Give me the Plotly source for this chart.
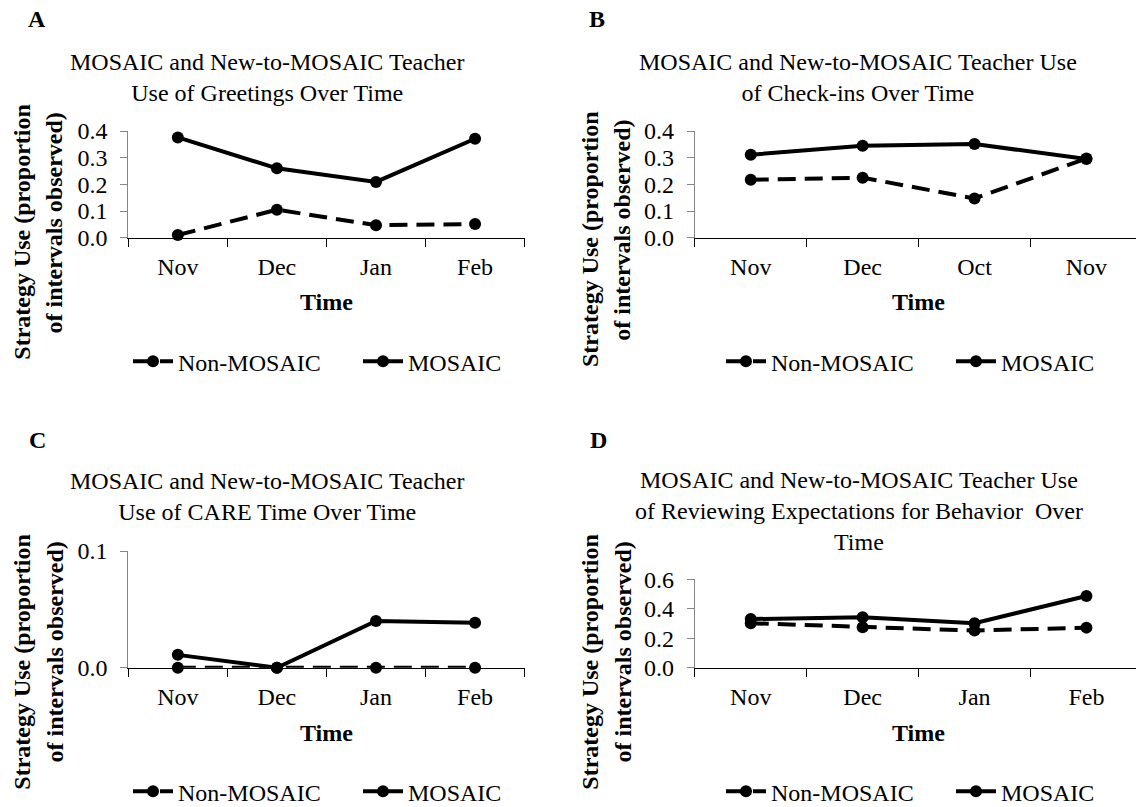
import plotly.graph_objects as go

W, H = 1136, 807

# ---------------- data ----------------
months_a = ["Nov", "Dec", "Jan", "Feb"]
months_b = ["Nov", "Dec", "Oct", "Nov"]
months_c = ["Nov", "Dec", "Jan", "Feb"]
months_d = ["Nov", "Dec", "Jan", "Feb"]

greet_non = [0.010, 0.105, 0.047, 0.051]
greet_mosaic = [0.376, 0.260, 0.209, 0.371]

checkin_non = [0.217, 0.225, 0.147, 0.297]
checkin_mosaic = [0.311, 0.345, 0.351, 0.295]

care_non = [0.0, 0.0, 0.0, 0.0]
care_mosaic = [0.011, 0.0, 0.040, 0.0386]

review_non = [0.302, 0.275, 0.252, 0.272]
review_mosaic = [0.330, 0.342, 0.302, 0.487]

series_names = ["Non-MOSAIC", "MOSAIC"]

titles = [
    "MOSAIC and New-to-MOSAIC Teacher<br>Use of Greetings Over Time",
    "MOSAIC and New-to-MOSAIC Teacher Use<br>of Check-ins Over Time",
    "MOSAIC and New-to-MOSAIC Teacher<br>Use of CARE Time Over Time",
    "MOSAIC and New-to-MOSAIC Teacher Use<br>of Reviewing Expectations for Behavior&nbsp; Over<br>Time",
]
panel_letters = ["A", "B", "C", "D"]
y_title_1 = "Strategy Use (proportion"
y_title_2 = "of intervals observed)"
x_title = "Time"

# ---------------- layout helpers ----------------
FONT = "Liberation Serif"
def px(x):
    return x / W
def py(y):
    return 1 - y / H

panels = [
    dict(m=months_a, non=greet_non, mos=greet_mosaic, yr=[0, 0.4], tv=[0, 0.1, 0.2, 0.3, 0.4],
         xd=(128.3, 524.6), yd=(237.7, 131.0), xr=[-0.5, 3.5],
         title_c=(267, 77), letter=(37, 19), yt1=(22, 231.7), yt2=(54, 223.5),
         xt=(326.5, 301.7), leg=(358, 361.7)),
    dict(m=months_b, non=checkin_non, mos=checkin_mosaic, yr=[0, 0.4], tv=[0, 0.1, 0.2, 0.3, 0.4],
         xd=(694.8, 1136), yd=(237.7, 131.0), xr=[-0.5, 3.443],
         title_c=(858, 77), letter=(597, 19), yt1=(590, 239), yt2=(622, 230.7),
         xt=(918.4, 301.7), leg=(951, 361.7)),
    dict(m=months_c, non=care_non, mos=care_mosaic, yr=[0, 0.1], tv=[0, 0.1],
         xd=(128.3, 524.6), yd=(667.7, 551.0), xr=[-0.5, 3.5],
         title_c=(267, 496.7), letter=(37, 440), yt1=(22, 661.7), yt2=(54, 652.5),
         xt=(326.5, 733.3), leg=(358, 791.7)),
    dict(m=months_d, non=review_non, mos=review_mosaic, yr=[0, 0.6], tv=[0, 0.2, 0.4, 0.6],
         xd=(694.8, 1136), yd=(667.7, 579.3), xr=[-0.5, 3.443],
         title_c=(858.8, 510.9), letter=(598, 440.5), yt1=(590, 661.7), yt2=(622, 652.5),
         xt=(918.4, 733.3), leg=(951, 791.7)),
]

fig = go.Figure()
annotations = []
layout = dict(
    width=W, height=H,
    margin=dict(l=0, r=0, t=0, b=0, autoexpand=False),
    paper_bgcolor="white", plot_bgcolor="white",
    font=dict(family=FONT, size=24, color="black"),
    showlegend=True,
)

for i, p in enumerate(panels):
    k = "" if i == 0 else str(i + 1)
    xa, ya = "x" + k, "y" + k
    leg = "legend" + k
    xpos = list(range(len(p["m"])))
    fig.add_trace(go.Scatter(
        x=xpos, y=p["non"], name=series_names[0], mode="lines+markers",
        line=dict(color="black", width=4, dash="18px,9px"),
        marker=dict(color="black", size=12, symbol="circle"),
        xaxis=xa, yaxis=ya, legend=leg, cliponaxis=False,
    ))
    fig.add_trace(go.Scatter(
        x=xpos, y=p["mos"], name=series_names[1], mode="lines+markers",
        line=dict(color="black", width=4),
        marker=dict(color="black", size=12, symbol="circle"),
        xaxis=xa, yaxis=ya, legend=leg, cliponaxis=False,
    ))
    layout["xaxis" + k] = dict(
        domain=[px(p["xd"][0]), px(p["xd"][1])],
        anchor=ya, range=p["xr"],
        tickmode="array", tickvals=xpos, ticktext=p["m"],
        ticks="", showgrid=False, zeroline=False,
        showline=True, linecolor="black", linewidth=1.3,
        tickfont=dict(size=24), ticklabelstandoff=7,
        minor=dict(tickmode="linear", tick0=-0.5, dtick=1, ticks="outside",
                   ticklen=8, tickwidth=1.3, tickcolor="black", showgrid=False),
    )
    layout["yaxis" + k] = dict(
        domain=[py(p["yd"][0]), py(p["yd"][1])],
        anchor=xa, range=p["yr"],
        tickmode="array", tickvals=p["tv"], tickformat=".1f",
        ticks="outside", ticklen=7, tickwidth=1, tickcolor="#868686",
        showgrid=False, zeroline=False,
        showline=True, linecolor="#868686", linewidth=1,
        tickfont=dict(size=24), ticklabelstandoff=8,
    )
    layout[leg] = dict(
        orientation="h", x=px(p["leg"][0]), y=py(p["leg"][1]),
        xanchor="center", yanchor="middle",
        font=dict(size=24, family=FONT), bgcolor="rgba(0,0,0,0)",
        itemwidth=40, entrywidth=175, traceorder="normal",
    )
    annotations.append(dict(
        text=titles[i], x=px(p["title_c"][0]), y=py(p["title_c"][1]),
        xref="paper", yref="paper", xanchor="center", yanchor="middle",
        showarrow=False, font=dict(size=24, family=FONT),
    ))
    annotations.append(dict(
        text="<b>" + panel_letters[i] + "</b>", x=px(p["letter"][0]), y=py(p["letter"][1]),
        xref="paper", yref="paper", xanchor="center", yanchor="middle",
        showarrow=False, font=dict(size=24, family=FONT),
    ))
    for txt, pos in ((y_title_1, p["yt1"]), (y_title_2, p["yt2"])):
        annotations.append(dict(
            text="<b>" + txt + "</b>", x=px(pos[0]), y=py(pos[1]),
            xref="paper", yref="paper", xanchor="center", yanchor="middle",
            textangle=-90, showarrow=False, font=dict(size=24, family=FONT),
        ))
    annotations.append(dict(
        text="<b>" + x_title + "</b>", x=px(p["xt"][0]), y=py(p["xt"][1]),
        xref="paper", yref="paper", xanchor="center", yanchor="middle",
        showarrow=False, font=dict(size=24, family=FONT),
    ))

layout["annotations"] = annotations
fig.update_layout(**layout)
fig.write_html(
    "out.html",
    config={"displayModeBar": False},
    post_script="document.body.style.margin='0px'; document.body.style.overflow='hidden';",
)
